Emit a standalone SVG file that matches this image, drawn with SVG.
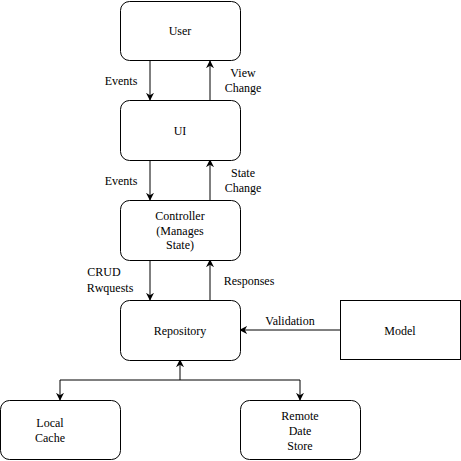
<svg xmlns="http://www.w3.org/2000/svg" width="461" height="461" viewBox="0 0 461 461">
<style>
.box{fill:#fff;stroke:#000;stroke-width:1}
text{font-family:'Liberation Serif','DejaVu Serif',serif;font-size:12px;fill:#000;text-anchor:middle}
.c{fill:none;stroke:#000;stroke-width:1;marker-end:url(#ah)}
.l{fill:none;stroke:#000;stroke-width:1}
</style>
<defs>
<marker id="ah" viewBox="0 0 10 10" refX="9" refY="5" markerWidth="8" markerHeight="8" markerUnits="userSpaceOnUse" orient="auto">
<path d="M0,0 L10,5 L0,10 L3,5 Z" fill="#000"/>
</marker>
</defs>
<rect width="461" height="461" fill="#fff"/>
<g id="connectors">
<path class="c" d="M150,61 V100"/>
<path class="c" d="M210,100 V61"/>
<path class="c" d="M150,160 V200"/>
<path class="c" d="M210,200 V160"/>
<path class="c" d="M150,260 V300"/>
<path class="c" d="M210,300 V260"/>
<path class="c" d="M340,330 H240"/>
<path class="c" d="M180,380 V360"/>
<path class="l" d="M60,380 H300"/>
<path class="c" d="M60,380 V400"/>
<path class="c" d="M300,380 V400"/>
<text x="121" y="85">Events</text>
<text x="243" y="77">View</text>
<text x="243" y="92">Change</text>
<text x="121" y="185">Events</text>
<text x="243" y="177">State</text>
<text x="243" y="192">Change</text>
<text x="104" y="276">CRUD</text>
<text x="110" y="292">Rwquests</text>
<text x="249" y="285">Responses</text>
<text x="290" y="325">Validation</text>
</g>
<g id="user"><rect class="box" x="120.5" y="1.5" width="120" height="59" rx="9"/><text x="180" y="35">User</text></g>
<g id="ui"><rect class="box" x="120.5" y="100.5" width="120" height="60" rx="9"/><text x="180" y="135">UI</text></g>
<g id="controller"><rect class="box" x="120.5" y="200.5" width="120" height="60" rx="9"/><text x="180" y="220">Controller</text><text x="180" y="235">(Manages</text><text x="180" y="249">State)</text></g>
<g id="repository"><rect class="box" x="120.5" y="300.5" width="120" height="60" rx="9"/><text x="180" y="335">Repository</text></g>
<g id="model"><rect class="box" x="340.5" y="300.5" width="120" height="59"/><text x="400" y="335">Model</text></g>
<g id="local-cache"><rect class="box" x="0.5" y="400.5" width="120" height="59" rx="9"/><text x="50" y="427">Local</text><text x="50" y="442">Cache</text></g>
<g id="remote-store"><rect class="box" x="240.5" y="400.5" width="120" height="59" rx="9"/><text x="300" y="420">Remote</text><text x="300" y="435">Date</text><text x="300" y="450">Store</text></g>
</svg>
